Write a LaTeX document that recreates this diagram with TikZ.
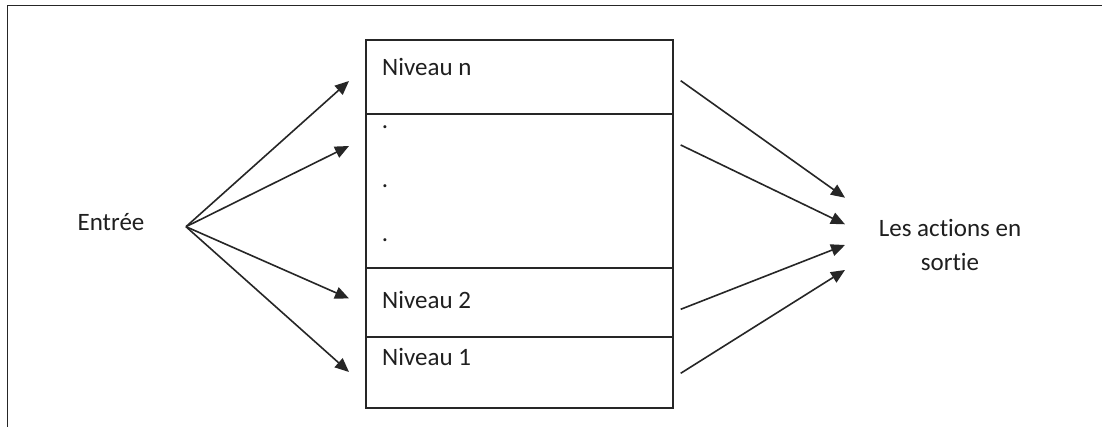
\documentclass[tikz,border=0pt]{standalone}
\usepackage{fontspec}
\setmainfont{Carlito}[Ligatures={NoCommon}]
\usetikzlibrary{arrows.meta}
\begin{document}
\begin{tikzpicture}[x=1pt,y=-1pt,
  line/.style={line width=1.6pt,draw=black!85},
  conn/.style={line,-{Triangle[length=14pt,width=12pt]}},
  levelbox/.style={line,minimum width=307pt,inner sep=0pt,anchor=north west},
  lbl/.style={font=\fontsize{25}{34}\selectfont,text=black!88,inner sep=0pt}]
\useasboundingbox (0,0) rectangle (1102,427);
\fill[white] (0,0) rectangle (1102,427);
\begin{scope}
\clip (0,0) rectangle (1102,427);
\draw[line] (7.5,5.5) rectangle (1120,445);
\end{scope}
% level boxes
\node[levelbox,draw,minimum height=74pt] (levn) at (365,39.3) {};
\node[levelbox,draw,minimum height=154pt] (dots) at (365,113.3) {};
\node[levelbox,draw,minimum height=68.7pt] (lev2) at (365,267.3) {};
\node[levelbox,draw,minimum height=71.3pt] (lev1) at (365,336) {};
% texts
\node[lbl,anchor=west] (tn) at (382,67) {Niveau n};
\node[lbl] (d1) at (385,127) {.};
\node[lbl] (d2) at (385,186) {.};
\node[lbl] (d3) at (385,240) {.};
\node[lbl,anchor=west] (t2) at (382,300) {Niveau 2};
\node[lbl,anchor=west] (t1) at (382,356.5) {Niveau 1};
\node[lbl] (in) at (111,222) {Entrée};
\node[lbl,align=center] (out) at (950,245) {Les actions en\\sortie};
% coordinates
\coordinate (src) at (186,226.7);
\coordinate (a1) at (349,81);
\coordinate (a2) at (349,146);
\coordinate (a3) at (349,298.5);
\coordinate (a4) at (349,372);
\coordinate (b1) at (680.7,80.7);
\coordinate (b2) at (680.7,145);
\coordinate (b3) at (680.7,309.3);
\coordinate (b4) at (680.7,373.3);
\coordinate (c1) at (845,197.7);
\coordinate (c2) at (845,224.3);
\coordinate (c3) at (845,245);
\coordinate (c4) at (845,270);
% connectors
\foreach \t in {a1,a2,a3,a4} \draw[conn] (src) -- (\t);
\draw[conn] (b1) -- (c1);
\draw[conn] (b2) -- (c2);
\draw[conn] (b3) -- (c3);
\draw[conn] (b4) -- (c4);
\end{tikzpicture}
\end{document}
